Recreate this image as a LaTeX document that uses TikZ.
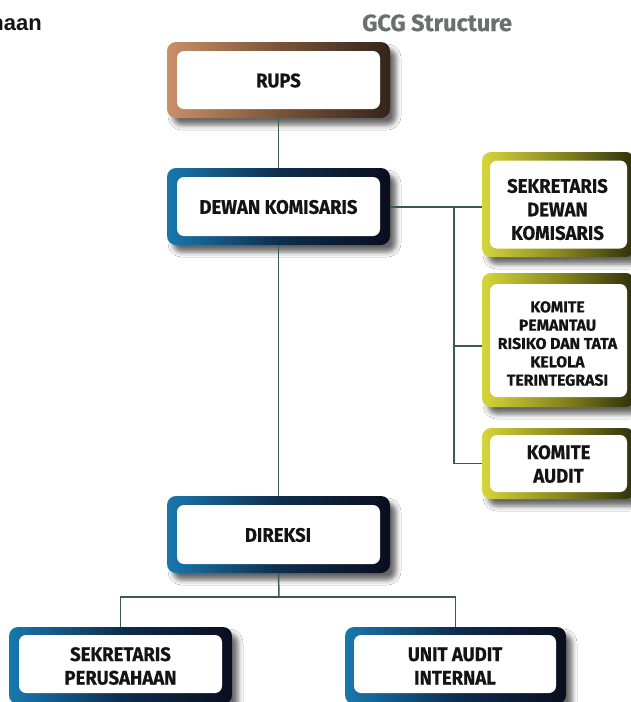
\documentclass[tikz,border=0pt]{standalone}
\usepackage{fontspec}
\setmainfont{Fira Sans}[FakeStretch=0.95, BoldFeatures={FakeBold=0.5}]
\newfontfamily\plainfira{Fira Sans}[BoldFeatures={FakeBold=0.5}]
\newfontfamily\hdfont{Liberation Sans}
\usetikzlibrary{shadows.blur}
\definecolor{conncol}{HTML}{3B5C4C}
\definecolor{gcggray}{HTML}{6D6E71}
\definecolor{txt}{HTML}{141414}
\definecolor{brownL}{HTML}{C99068}
\definecolor{brownM}{HTML}{7A5438}
\definecolor{brownR}{HTML}{35241A}
\definecolor{blueL}{HTML}{1878AE}
\definecolor{blueM}{HTML}{0E2E4E}
\definecolor{blueR}{HTML}{0A0E1E}
\definecolor{oliveL}{HTML}{D6D63A}
\definecolor{oliveM}{HTML}{8A8A1E}
\definecolor{oliveR}{HTML}{2E2E0C}
\begin{document}
\begin{tikzpicture}[x=1pt,y=-1pt,
  outerbox/.style={rectangle, rounded corners=9pt, inner sep=0pt, draw=none,
    blur shadow={shadow xshift=6pt, shadow yshift=-7pt, shadow blur radius=5pt, shadow opacity=60}},
  brownbox/.style={outerbox, left color=brownL, right color=brownR, middle color=brownM},
  bluebox/.style={outerbox, left color=blueL, right color=blueR, middle color=blueM},
  olivebox/.style={outerbox, left color=oliveL, right color=oliveR, middle color=oliveM},
  innerbox/.style={rectangle, fill=white, rounded corners=7pt, inner sep=0pt},
  lbl/.style={inner sep=0pt, align=center, text=txt, font=\bfseries\fontsize{19.5}{23.5}\selectfont},
  smalllbl/.style={lbl, font=\plainfira\bfseries\fontsize{15.8}{18.3}\selectfont},
  conn/.style={draw=conncol, line width=1.5pt}
]
\useasboundingbox (0,0) rectangle (630,702);
\fill[white] (0,0) rectangle (630,702);

% header
\node[anchor=base east, inner sep=0pt, text=txt, font=\hdfont\bfseries\fontsize{22}{26}\selectfont] (aan) at (42,30.5) {haan};
\node[anchor=base west, inner sep=0pt, text=gcggray, font=\plainfira\bfseries\fontsize{23.5}{27}\selectfont] (hd) at (362,31) {GCG Structure};

% helper coordinates for connectors
\coordinate (bus) at (454,207);
\coordinate (split) at (279,597);

% boxes
\node[brownbox, minimum width=223pt, minimum height=76pt] (rupsO) at (278.5,80) {};
\node[innerbox, minimum width=203pt, minimum height=58pt] (rups) at (278.5,80) {};
\node[lbl] (rupsT) at (278.5,80.5) {RUPS};

\node[bluebox, minimum width=223pt, minimum height=77pt] (dewanO) at (278.5,206.5) {};
\node[innerbox, minimum width=203pt, minimum height=59pt] (dewan) at (278.5,206.5) {};
\node[lbl] (dewanT) at (278.5,207) {DEWAN KOMISARIS};

\node[olivebox, minimum width=153pt, minimum height=105pt] (sekdO) at (558.5,204.5) {};
\node[innerbox, minimum width=137pt, minimum height=88pt] (sekd) at (558.5,204.5) {};
\node[lbl] (sekdT) at (557.5,209.5) {SEKRETARIS\\DEWAN\\KOMISARIS};

\node[olivebox, minimum width=153pt, minimum height=134pt] (kprO) at (558.5,340) {};
\node[innerbox, minimum width=137pt, minimum height=113pt] (kpr) at (558.5,340.5) {};
\node[smalllbl] (kprT) at (557.5,343.5) {KOMITE\\PEMANTAU\\RISIKO DAN TATA\\KELOLA\\TERINTEGRASI};

\node[olivebox, minimum width=153pt, minimum height=71pt] (kaO) at (558.5,463.5) {};
\node[innerbox, minimum width=137pt, minimum height=57pt] (ka) at (558.5,463.5) {};
\node[lbl] (kaT) at (558.5,464) {KOMITE\\AUDIT};

\node[bluebox, minimum width=223pt, minimum height=77pt] (dirO) at (278.5,534.5) {};
\node[innerbox, minimum width=203pt, minimum height=59pt] (dir) at (278.5,534.5) {};
\node[lbl] (dirT) at (278,535) {DIREKSI};

\node[bluebox, minimum width=223pt, minimum height=77pt] (spO) at (120.5,665.5) {};
\node[innerbox, minimum width=203pt, minimum height=58pt] (sp) at (120.5,664) {};
\node[lbl] (spT) at (120.5,666) {SEKRETARIS\\PERUSAHAAN};

\node[bluebox, minimum width=221pt, minimum height=77pt] (uaiO) at (455.5,665.5) {};
\node[innerbox, minimum width=202pt, minimum height=58pt] (uai) at (455,664) {};
\node[lbl] (uaiT) at (455,666) {UNIT AUDIT\\INTERNAL};

% connectors
\draw[conn] (rupsO.south) -- (dewanO.north);
\draw[conn] (dewanO.south) -- (dirO.north);
\draw[conn] (dewanO.east |- bus) -- (sekdO.west |- bus);
\draw[conn] (bus) |- (kaO.west);
\draw[conn] (bus |- 0,346) -- (kprO.west |- 0,346);
\draw[conn] (dirO.south) -- (split);
\draw[conn] (spO.north) |- (split) -| (uaiO.north);
\end{tikzpicture}
\end{document}
